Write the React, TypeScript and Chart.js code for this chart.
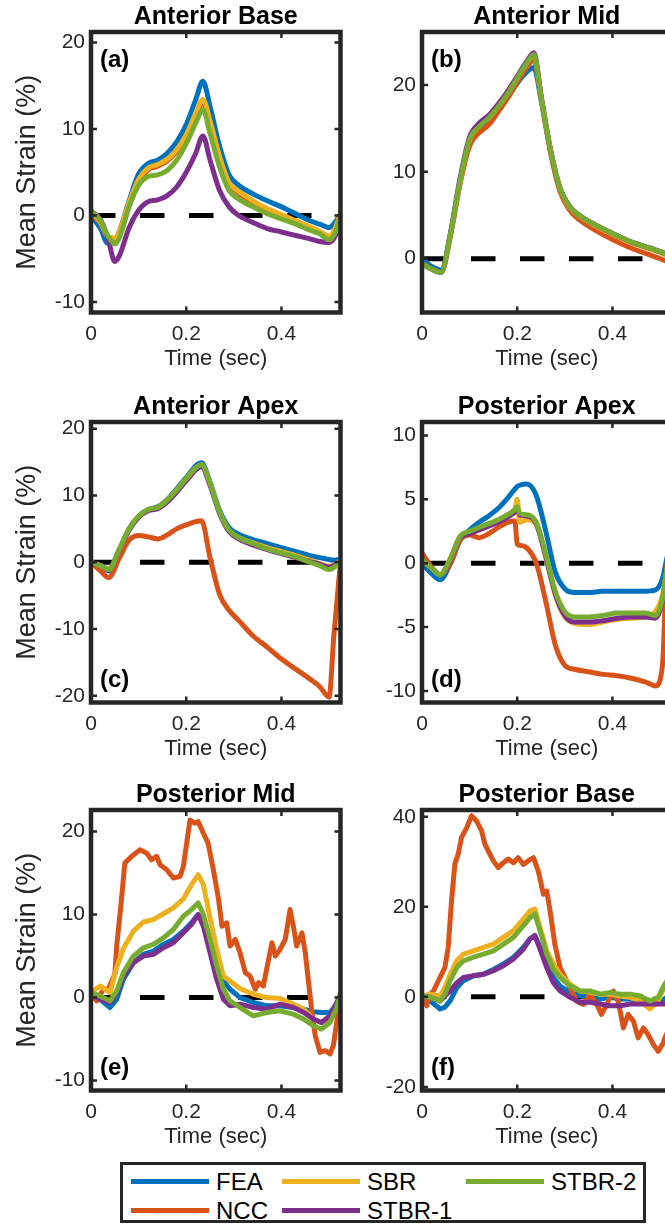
import React, { useEffect, useRef } from "react";
import { Chart, registerables } from "chart.js";

Chart.register(...registerables);

const FONT = '"Liberation Sans", Arial, Helvetica, sans-serif';
Chart.defaults.font.family = FONT;

// ---------- series meta ----------
const SERIES_NAMES = ["FEA", "NCC", "SBR", "STBR-1", "STBR-2"];
const SERIES_COLORS = ["#0072BD", "#D95319", "#EDB120", "#7E2F8E", "#77AC30"];
const X_TICKS = [0, 0.2, 0.4];
const X_MAX = 0.524;
const ZERO_LINE_T = [0, 0.5];

// ---------- (a) Anterior Base ----------
const T_A = [0, 0.02, 0.035, 0.05, 0.06, 0.08, 0.10, 0.12, 0.14, 0.16, 0.18, 0.20, 0.22, 0.235, 0.25, 0.27, 0.29, 0.31, 0.34, 0.37, 0.40, 0.43, 0.46, 0.48, 0.50, 0.515, 0.524];
const FEA_A = [0, -1.5, -3.2, -3, -1.8, 1.7, 4.8, 6, 6.4, 7.2, 8.5, 10.5, 13.4, 15.5, 12.6, 8, 4.7, 3.5, 2.5, 1.7, 1, 0.2, -0.6, -1, -1.4, -0.6, 0.2];
const NCC_A = [0.3, -0.9, -2.5, -2.7, -1.9, 1.3, 4.0, 5.3, 5.7, 6.3, 7.4, 9.0, 11.5, 13.0, 10.6, 6.5, 3.6, 2.6, 1.5, 0.6, -0.1, -0.8, -1.5, -2.0, -2.5, -1.3, 0.2];
const SBR_A = [0.5, -0.8, -2.4, -2.6, -1.8, 1.5, 4.2, 5.5, 5.9, 6.5, 7.6, 9.3, 11.8, 13.4, 10.9, 6.8, 3.8, 2.8, 1.7, 0.8, 0.1, -0.6, -1.3, -1.8, -2.4, -1.2, 0.3];
const STBR1_A = [0.5, -0.5, -2.5, -5.3, -4.6, -1.4, 0.6, 1.6, 1.8, 2.3, 3.3, 5, 7.2, 9.2, 6.4, 2.9, 1, 0, -0.8, -1.5, -1.9, -2.3, -2.7, -3, -3.1, -2.1, -0.2];
const STBR2_A = [0.6, -0.6, -2.3, -3.3, -2.5, 1, 3.5, 4.5, 4.7, 5.2, 6.4, 8.3, 10.7, 12.2, 9.5, 5.6, 2.9, 1.9, 1, 0.2, -0.4, -1, -1.7, -2.1, -2.8, -1.7, 0];

// ---------- (b) Anterior Mid ----------
const T_B = [0, 0.02, 0.04, 0.06, 0.08, 0.10, 0.12, 0.14, 0.16, 0.18, 0.20, 0.22, 0.235, 0.25, 0.27, 0.29, 0.31, 0.33, 0.36, 0.40, 0.44, 0.48, 0.50, 0.524];
const FEA_B = [0, -0.9, -1.3, 2.9, 9, 13.6, 15.0, 15.9, 17.2, 18.6, 20.2, 21.5, 22.0, 18.3, 12.4, 8.0, 6.0, 5.0, 4.0, 2.9, 1.9, 1.2, 0.8, 0.3];
const NCC_B = [-0.5, -1.2, -1.6, 2.7, 8.6, 13.0, 14.5, 15.4, 16.9, 18.5, 20.3, 22.0, 22.9, 18.5, 12.2, 7.7, 5.6, 4.5, 3.4, 2.2, 1.2, 0.4, 0, -0.5];
const SBR_B = [-0.6, -1.2, -1.6, 2.9, 9, 13.7, 15.3, 16.2, 17.5, 19, 20.8, 22.5, 23.4, 18.7, 12.5, 8.0, 5.9, 4.9, 3.9, 2.8, 1.8, 1.1, 0.7, 0.2];
const STBR1_B = [-0.6, -1.2, -1.6, 3.0, 9.3, 14.0, 15.6, 16.5, 17.8, 19.3, 21.0, 22.7, 23.7, 18.8, 12.5, 8.1, 6, 5, 4, 2.9, 1.9, 1.2, 0.8, 0.3];
const STBR2_B = [-0.6, -1.2, -1.6, 2.9, 9, 13.7, 15.2, 16.2, 17.5, 19, 20.8, 22.5, 23.5, 18.7, 12.5, 8.1, 6, 5, 4, 2.9, 1.9, 1.2, 0.8, 0.3];

// ---------- (c) Anterior Apex ----------
const T_C = [0, 0.02, 0.037, 0.06, 0.08, 0.10, 0.12, 0.14, 0.16, 0.18, 0.20, 0.232, 0.25, 0.27, 0.29, 0.31, 0.34, 0.37, 0.40, 0.43, 0.46, 0.48, 0.50, 0.51, 0.524];
const FEA_C = [0, -0.6, -1.3, 2, 5, 6.9, 7.9, 8.3, 9.4, 11, 12.7, 14.9, 12, 7.8, 5.2, 4.2, 3.4, 2.8, 2.2, 1.6, 1.0, 0.7, 0.4, 0.3, 0.4];
const NCC_C = [0, -1.3, -2.3, 0.7, 3.3, 4, 3.8, 3.5, 4.1, 5, 5.6, 6.2, 0.7, -4.8, -7.2, -8.7, -11, -12.7, -14.5, -16, -17.5, -18.6, -20.2, -11, 0];
const SBR_C = [0, -0.5, -1.1, 2, 5, 6.9, 7.9, 8.2, 9.3, 10.8, 12.5, 14.6, 11.8, 7.5, 4.8, 3.7, 2.9, 2.2, 1.6, 1.0, 0.3, -0.2, -0.6, -0.4, 0.3];
const STBR1_C = [0, -0.5, -1.1, 1.9, 4.8, 6.7, 7.7, 8.0, 9.0, 10.5, 12.2, 14.3, 11.5, 7.3, 4.6, 3.5, 2.6, 1.9, 1.3, 0.7, 0.1, -0.3, -0.7, -0.5, 0.3];
const STBR2_C = [0, -0.5, -1.1, 2, 5, 6.9, 7.9, 8.2, 9.3, 10.8, 12.5, 14.6, 11.8, 7.5, 4.8, 3.7, 2.8, 2, 1.4, 0.8, 0, -0.5, -1.1, -0.8, 0.3];

// ---------- (d) Posterior Apex ----------
const T_D = [0, 0.02, 0.038, 0.06, 0.08, 0.10, 0.12, 0.14, 0.16, 0.18, 0.195, 0.2, 0.205, 0.22, 0.24, 0.26, 0.28, 0.30, 0.32, 0.35, 0.38, 0.41, 0.44, 0.47, 0.49, 0.505, 0.515, 0.524];
const FEA_D = [0, -0.8, -1.3, 0, 1.8, 2.6, 3.2, 3.7, 4.3, 5.1, 5.8, 6, 6.1, 6.2, 5.3, 2.5, -0.7, -2, -2.3, -2.3, -2.2, -2.2, -2.2, -2.2, -2.1, -1.2, 0.5, 1.5];
const NCC_D = [0.8, -0.3, -0.9, 0, 1.8, 2.2, 2, 2.3, 2.8, 3.2, 3.3, 1.5, 1.4, 1.2, 0, -3, -6.4, -8, -8.3, -8.5, -8.7, -8.8, -9, -9.3, -9.6, -8, 0, 0.5];
const SBR_D = [0.3, -0.4, -0.9, 0.4, 2.1, 2.4, 2.7, 3.0, 3.3, 3.7, 4.2, 5.0, 3.2, 3.4, 3.0, 0.5, -2.5, -4.2, -4.7, -4.8, -4.6, -4.4, -4.3, -4.2, -3.8, -2.5, -0.4, 0.5];
const STBR1_D = [0.3, -0.4, -0.9, 0.3, 2.0, 2.3, 2.6, 2.9, 3.2, 3.6, 4.0, 4.2, 3.8, 3.7, 3.1, 0.5, -2.4, -4.1, -4.6, -4.6, -4.5, -4.3, -4.2, -4.2, -4.3, -3.0, -0.5, 0.5];
const STBR2_D = [0.3, -0.4, -0.9, 0.4, 2.1, 2.5, 2.8, 3.1, 3.4, 3.8, 4.2, 4.4, 3.9, 3.8, 3.2, 0.7, -2.2, -3.8, -4.2, -4.2, -4.1, -3.9, -3.9, -3.9, -4.1, -2.8, -0.4, 0.5];

// ---------- (e) Posterior Mid ----------
const T_E = [0, 0.019, 0.04, 0.054, 0.068, 0.089, 0.11, 0.131, 0.152, 0.173, 0.194, 0.211, 0.225, 0.236, 0.25, 0.264, 0.278, 0.292, 0.313, 0.341, 0.369, 0.397, 0.425, 0.447, 0.467, 0.484, 0.502, 0.516, 0.524];
const FEA_E = [0.4, -0.2, -1.2, -0.2, 2.2, 4.2, 5.2, 5.6, 6.4, 7, 8, 9, 10, 9, 6.6, 4.2, 2, 1, 0, -0.6, -1, -1, -1.2, -1.4, -1.7, -1.8, -1.8, -0.8, 0.4];
const SBR_E = [0.6, 1.4, 0.6, 3.6, 5.9, 8, 9.1, 9.4, 10.1, 10.8, 11.9, 13.6, 14.8, 13.6, 9.6, 5.8, 2.6, 2, 1.1, 0.4, 0, -0.1, -0.8, -1.4, -2.6, -3, -2.4, -0.8, 0.6];
const STBR1_E = [0.4, -0.2, -0.6, 0.6, 2.6, 4.2, 5, 5.2, 6, 6.6, 7.8, 8.8, 10, 8.6, 5.4, 2.2, -0.2, -1, -0.8, -1.2, -1.4, -0.8, -1.2, -1.8, -2.6, -3, -2.2, -0.6, 0.2];
const STBR2_E = [0.6, 0.2, -0.4, 0.8, 3, 5, 6, 6.4, 7.2, 8.2, 9.8, 10.6, 11.4, 10, 7, 3.8, 1, -0.4, -1.2, -2.2, -1.8, -1.6, -2, -2.6, -3.4, -3.8, -3, -1.2, 0.4];
const T_E_NCC = [0, 0.012, 0.026, 0.036, 0.05, 0.054, 0.064, 0.071, 0.085, 0.103, 0.117, 0.127, 0.138, 0.145, 0.159, 0.173, 0.187, 0.194, 0.201, 0.208, 0.218, 0.225, 0.236, 0.246, 0.257, 0.268, 0.275, 0.285, 0.292, 0.303, 0.313, 0.324, 0.334, 0.345, 0.352, 0.362, 0.373, 0.38, 0.387, 0.397, 0.408, 0.418, 0.425, 0.432, 0.443, 0.45, 0.457, 0.464, 0.471, 0.481, 0.492, 0.502, 0.509, 0.516, 0.524];
const NCC_E = [0.6, -0.4, 1, 1, 2.8, 6.2, 11.8, 16.2, 17, 17.8, 17.4, 16.6, 17, 16, 15.4, 14.4, 14.6, 15.8, 18.6, 21.4, 21, 21.2, 19.8, 18.6, 15.4, 11.8, 8.6, 9, 6.2, 7, 5.4, 3, 2.6, 1, 1.8, 1.4, 4.6, 6.6, 5, 5.8, 7, 10.6, 8.6, 6.2, 7.8, 5.4, 1.8, -1.8, -4.6, -6.6, -6.4, -6.8, -5.8, -3, 0];

// ---------- (f) Posterior Base ----------
const T_F = [0, 0.017, 0.038, 0.048, 0.059, 0.073, 0.087, 0.108, 0.129, 0.15, 0.171, 0.192, 0.213, 0.227, 0.237, 0.248, 0.262, 0.276, 0.29, 0.311, 0.332, 0.353, 0.374, 0.395, 0.416, 0.437, 0.458, 0.479, 0.496, 0.51, 0.524];
const FEA_F = [0.2, -0.9, -2.7, -2.3, -0.9, 2, 3.6, 4.7, 5, 6.1, 7.3, 8.8, 11, 12.9, 13.6, 11, 7.3, 4.3, 2.4, 1, 0.2, -0.1, -0.5, -0.1, -0.5, -0.5, -0.9, -1.2, -1.2, -0.5, 1];
const SBR_F = [0.2, 0.6, 0.2, 2, 5, 8, 9.5, 10.2, 11, 11.7, 13.2, 14.7, 17.3, 19.1, 19.5, 15.4, 10.2, 7.3, 5, 2.8, 1.3, 1, 0.6, 0.6, 0.2, -0.1, -0.9, -2.7, -1, 2.5, 4];
const STBR1_F = [0.2, -0.1, -0.9, 0.2, 1.3, 3.1, 4.3, 4.7, 5, 5.8, 6.9, 8.4, 10.6, 12.9, 13.6, 10.6, 6.5, 3.1, 1.3, -0.1, -1.2, -1.2, -1.6, -2, -2, -1.6, -1.6, -1.6, -1.6, -1.6, -1];
const STBR2_F = [0.2, -0.1, -0.9, 0.6, 3.6, 6.5, 8, 8.8, 9.5, 10.2, 11.7, 13.2, 15.8, 17.6, 18.4, 14.7, 9.5, 6.1, 4.3, 2.4, 1.3, 1.3, 0.6, 1, 0.6, 0.6, 0.2, -0.9, -0.1, 2.8, 5];
const T_F_NCC = [0, 0.01, 0.017, 0.024, 0.031, 0.041, 0.048, 0.055, 0.062, 0.069, 0.076, 0.083, 0.094, 0.104, 0.115, 0.125, 0.132, 0.139, 0.15, 0.16, 0.171, 0.181, 0.192, 0.202, 0.213, 0.223, 0.234, 0.244, 0.255, 0.262, 0.269, 0.279, 0.29, 0.297, 0.311, 0.325, 0.339, 0.353, 0.367, 0.377, 0.388, 0.402, 0.412, 0.423, 0.433, 0.444, 0.454, 0.465, 0.475, 0.486, 0.496, 0.507, 0.51, 0.524];
const NCC_F = [0.6, -2, 0.6, 1.3, 2.8, 5, 6.5, 11, 21.3, 29.5, 31.7, 35.4, 37.6, 40.2, 39, 36.9, 33.9, 32.4, 30.2, 28.7, 29.8, 30.6, 29.8, 30.9, 29.4, 30.2, 30.9, 28, 22.8, 23.5, 19.1, 11.7, 6.5, 5, 2, -1, -1.7, 0.6, -1.7, -3.9, -1.7, 1.3, -1, -6.9, -3.9, -5.4, -9.1, -6.9, -8.4, -10.6, -12.1, -10.2, -9.1, -6];

// ---------- y axes ----------
const Y_TICKS_A = [-10, 0, 10, 20];
const Y_TICKS_B = [0, 10, 20];
const Y_TICKS_C = [-20, -10, 0, 10, 20];
const Y_TICKS_D = [-10, -5, 0, 5, 10];
const Y_TICKS_E = [-10, 0, 10, 20];
const Y_TICKS_F = [-20, 0, 20, 40];

type Series = { t: number[]; v: number[] };
type Panel = {
  title: string; tag: string; tagTop: boolean;
  yMin: number; yMax: number; yTicks: number[];
  series: Series[]; smooth: boolean; col: number; row: number;
};

const PANELS: Panel[] = [
  { title: "Anterior Base", tag: "(a)", tagTop: true, yMin: -11.2, yMax: 21.2, yTicks: Y_TICKS_A, smooth: true, col: 0, row: 0,
    series: [{ t: T_A, v: FEA_A }, { t: T_A, v: NCC_A }, { t: T_A, v: SBR_A }, { t: T_A, v: STBR1_A }, { t: T_A, v: STBR2_A }] },
  { title: "Anterior Mid", tag: "(b)", tagTop: true, yMin: -6.2, yMax: 26.1, yTicks: Y_TICKS_B, smooth: true, col: 1, row: 0,
    series: [{ t: T_B, v: FEA_B }, { t: T_B, v: NCC_B }, { t: T_B, v: SBR_B }, { t: T_B, v: STBR1_B }, { t: T_B, v: STBR2_B }] },
  { title: "Anterior Apex", tag: "(c)", tagTop: false, yMin: -21, yMax: 21, yTicks: Y_TICKS_C, smooth: true, col: 0, row: 1,
    series: [{ t: T_C, v: FEA_C }, { t: T_C, v: NCC_C }, { t: T_C, v: SBR_C }, { t: T_C, v: STBR1_C }, { t: T_C, v: STBR2_C }] },
  { title: "Posterior Apex", tag: "(d)", tagTop: false, yMin: -10.9, yMax: 11.05, yTicks: Y_TICKS_D, smooth: true, col: 1, row: 1,
    series: [{ t: T_D, v: FEA_D }, { t: T_D, v: NCC_D }, { t: T_D, v: SBR_D }, { t: T_D, v: STBR1_D }, { t: T_D, v: STBR2_D }] },
  { title: "Posterior Mid", tag: "(e)", tagTop: false, yMin: -11.2, yMax: 22.6, yTicks: Y_TICKS_E, smooth: false, col: 0, row: 2,
    series: [{ t: T_E, v: FEA_E }, { t: T_E_NCC, v: NCC_E }, { t: T_E, v: SBR_E }, { t: T_E, v: STBR1_E }, { t: T_E, v: STBR2_E }] },
  { title: "Posterior Base", tag: "(f)", tagTop: false, yMin: -20.8, yMax: 41.5, yTicks: Y_TICKS_F, smooth: false, col: 1, row: 2,
    series: [{ t: T_F, v: FEA_F }, { t: T_F_NCC, v: NCC_F }, { t: T_F, v: SBR_F }, { t: T_F, v: STBR1_F }, { t: T_F, v: STBR2_F }] },
];

// ---------- layout ----------
const CANVAS_H = 372;
const ROW_TOP = [0, 390, 778];
const COL_LEFT = [0, 350];
const COL_W = [350, 340];
const COL_PAD_L = [11, 0];
const COL_YAXIS_W = [80, 72];
const COL_PAD_R = [9.5, 18.5];
const TITLE_SIZE = 25;
const PAD_TOP = 32 - TITLE_SIZE * 1.2;
const X_AXIS_H = CANVAS_H - 312.5;
const TICK_COLOR = "#262626";

const framePlugin = {
  id: "frame",
  afterDatasetsDraw(chart: any, _args: any, opts: any) {
    const { ctx, chartArea } = chart;
    const { left, right, top, bottom } = chartArea;
    const xs = chart.scales.x;
    const ys = chart.scales.y;
    ctx.save();
    ctx.strokeStyle = TICK_COLOR;
    ctx.lineWidth = 2.5;
    ctx.beginPath();
    for (const v of X_TICKS) {
      const px = xs.getPixelForValue(v);
      ctx.moveTo(px, bottom); ctx.lineTo(px, bottom - 6);
      ctx.moveTo(px, top); ctx.lineTo(px, top + 6);
    }
    for (const v of opts.yTicks as number[]) {
      const py = ys.getPixelForValue(v);
      ctx.moveTo(left, py); ctx.lineTo(left + 6, py);
      ctx.moveTo(right, py); ctx.lineTo(right - 6, py);
    }
    ctx.stroke();
    ctx.lineWidth = 4.5;
    ctx.strokeRect(left, top, right - left, bottom - top);
    ctx.fillStyle = "#000";
    ctx.font = `bold 24px ${FONT}`;
    ctx.textBaseline = "middle";
    ctx.textAlign = "left";
    ctx.fillText(opts.tag, left + 9, opts.tagTop ? top + 28 : bottom - 22);
    ctx.restore();
  },
};

function PanelChart({ p }: { p: Panel }) {
  const ref = useRef<HTMLCanvasElement>(null);
  useEffect(() => {
    const canvas = ref.current;
    if (!canvas) return;
    const c = p.col;
    const datasets: any[] = [
      {
        label: "zero",
        data: ZERO_LINE_T.map((t) => ({ x: t, y: 0 })),
        borderColor: "#000",
        borderWidth: 5,
        borderDash: [24.5, 24.5],
        borderCapStyle: "butt",
        pointRadius: 0,
        order: 10,
      },
      ...p.series.map((s, i) => ({
        label: SERIES_NAMES[i],
        data: s.t.map((t, k) => ({ x: t, y: s.v[k] })),
        borderColor: SERIES_COLORS[i],
        backgroundColor: SERIES_COLORS[i],
        borderWidth: 5,
        pointRadius: 0,
        pointHoverRadius: 0,
        fill: false,
        borderJoinStyle: "round",
        borderCapStyle: "round",
        cubicInterpolationMode: p.smooth ? "monotone" : "default",
        tension: 0,
        order: 5 - i,
      })),
    ];
    const tickFont = { size: 21, family: FONT };
    const chart = new Chart(canvas, {
      type: "line",
      data: { datasets },
      plugins: [framePlugin],
      options: {
        animation: false,
        responsive: true,
        maintainAspectRatio: false,
        events: [],
        layout: { padding: { top: PAD_TOP, bottom: 0, left: COL_PAD_L[c], right: COL_PAD_R[c] } },
        plugins: {
          legend: { display: false },
          tooltip: { enabled: false },
          title: {
            display: true,
            text: p.title,
            fullSize: false,
            color: "#000",
            font: { size: TITLE_SIZE, weight: "bold", family: FONT },
            padding: { top: 0, bottom: 0 },
          },
          frame: { yTicks: p.yTicks, tag: p.tag, tagTop: p.tagTop },
        } as any,
        scales: {
          x: {
            type: "linear",
            min: 0,
            max: X_MAX,
            grid: { display: false, drawTicks: false },
            border: { display: false },
            afterBuildTicks: (s: any) => { s.ticks = X_TICKS.map((v) => ({ value: v })); },
            afterFit: (s: any) => { s.height = X_AXIS_H; },
            ticks: { font: tickFont, color: TICK_COLOR, padding: 9, maxRotation: 0, autoSkip: false, callback: (v: any) => String(v) },
            title: { display: true, text: "Time (sec)", color: TICK_COLOR, font: { size: 22, family: FONT }, padding: 0 },
          },
          y: {
            type: "linear",
            min: p.yMin,
            max: p.yMax,
            grid: { display: false, drawTicks: false },
            border: { display: false },
            afterBuildTicks: (s: any) => { s.ticks = p.yTicks.map((v) => ({ value: v })); },
            afterFit: (s: any) => { s.width = COL_YAXIS_W[c]; },
            ticks: { font: tickFont, color: TICK_COLOR, padding: 6, autoSkip: false, callback: (v: any) => String(v) },
            title: { display: c === 0, text: "Mean Strain (%)", color: TICK_COLOR, font: { size: 27, family: FONT }, padding: 0 },
          },
        },
      } as any,
    });
    return () => chart.destroy();
  }, [p]);
  return (
    <div style={{ position: "absolute", left: COL_LEFT[p.col], top: ROW_TOP[p.row], width: COL_W[p.col], height: CANVAS_H }}>
      <canvas ref={ref} />
    </div>
  );
}

// ---------- legend ----------
const LEGEND_COL_LINE_X = [131, 282, 466];
const LEGEND_COL_TEXT_X = [216, 367, 551];
const LEGEND_ROW_Y = [1181.5, 1210.5];

function Legend() {
  const items = SERIES_NAMES.map((name, i) => ({ name, color: SERIES_COLORS[i], col: Math.floor(i / 2), row: i % 2 }));
  return (
    <>
      <div style={{ position: "absolute", left: 120, top: 1162, width: 526, height: 61, border: "3px solid #262626", boxSizing: "border-box", background: "#fff" }} />
      {items.map((it) => (
        <React.Fragment key={it.name}>
          <div style={{ position: "absolute", left: LEGEND_COL_LINE_X[it.col], top: LEGEND_ROW_Y[it.row] - 2.5, width: 78, height: 5, background: it.color }} />
          <div style={{ position: "absolute", left: LEGEND_COL_TEXT_X[it.col], top: LEGEND_ROW_Y[it.row] - 14, height: 28, lineHeight: "28px", fontSize: 24, fontFamily: FONT, color: "#000", whiteSpace: "nowrap" }}>
            {it.name}
          </div>
        </React.Fragment>
      ))}
    </>
  );
}

export default function App() {
  return (
    <div style={{ position: "fixed", left: 0, top: 0, width: 665, height: 1224, overflow: "hidden", background: "#fff", fontFamily: FONT }}>
      {PANELS.map((p) => (
        <PanelChart key={p.tag} p={p} />
      ))}
      <Legend />
    </div>
  );
}
